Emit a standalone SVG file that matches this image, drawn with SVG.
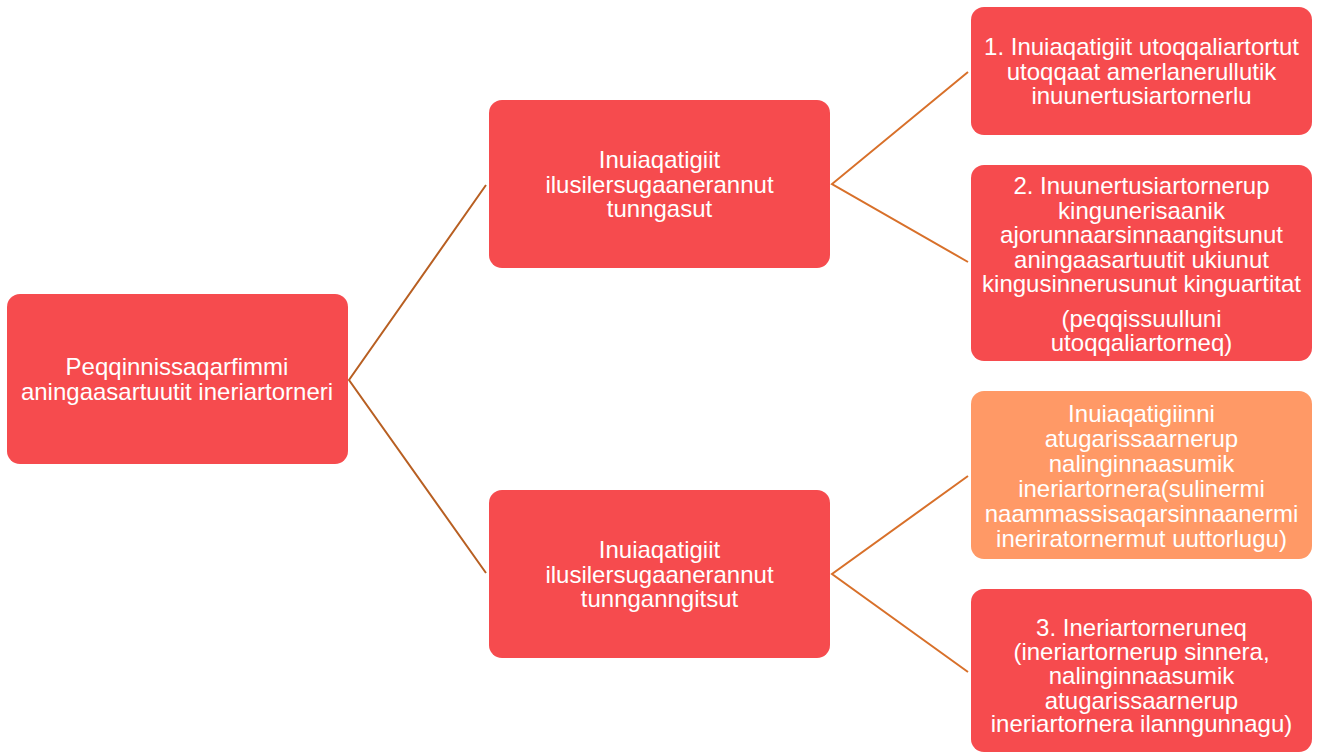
<svg xmlns="http://www.w3.org/2000/svg" width="1317" height="753" viewBox="0 0 1317 753">
<style>
.box{fill:#F64B4E;}
.box.alt{fill:#FF9966;}
.t{font-family:"Liberation Sans",Arial,sans-serif;font-size:24px;fill:#FFFFFF;text-anchor:middle;}
.c1{stroke:#B85F22;stroke-width:2;fill:none;}
.c2{stroke:#D8702A;stroke-width:2;fill:none;}
</style>
<rect width="1317" height="753" fill="#FFFFFF"/>
<g id="connectors">
<polyline class="c1" points="486,185 349,380 486,573"/>
<polyline class="c2" points="968,72 832,184 968,262"/>
<polyline class="c2" points="968,476 832,574 968,672"/>
</g>
<g id="root">
<rect class="box" x="7" y="294" width="341" height="170" rx="13"/>
<text class="t" x="177" y="375">Peqqinnissaqarfimmi</text>
<text class="t" x="177" y="400">aningaasartuutit ineriartorneri</text>
</g>
<g id="mid-top">
<rect class="box" x="489" y="100" width="341" height="168" rx="13"/>
<text class="t" x="659.5" y="168">Inuiaqatigiit</text>
<text class="t" x="659.5" y="193">ilusilersugaanerannut</text>
<text class="t" x="659.5" y="217">tunngasut</text>
</g>
<g id="mid-bottom">
<rect class="box" x="489" y="490" width="341" height="168" rx="13"/>
<text class="t" x="659.5" y="558">Inuiaqatigiit</text>
<text class="t" x="659.5" y="583">ilusilersugaanerannut</text>
<text class="t" x="659.5" y="607">tunnganngitsut</text>
</g>
<g id="leaf1">
<rect class="box" x="971" y="7" width="341" height="128" rx="13"/>
<text class="t" x="1141.5" y="55">1. Inuiaqatigiit utoqqaliartortut</text>
<text class="t" x="1141.5" y="80">utoqqaat amerlanerullutik</text>
<text class="t" x="1141.5" y="104">inuunertusiartornerlu</text>
</g>
<g id="leaf2">
<rect class="box" x="971" y="165" width="341" height="196" rx="13"/>
<text class="t" x="1141.5" y="194">2. Inuunertusiartornerup</text>
<text class="t" x="1141.5" y="219">kingunerisaanik</text>
<text class="t" x="1141.5" y="243">ajorunnaarsinnaangitsunut</text>
<text class="t" x="1141.5" y="268">aningaasartuutit ukiunut</text>
<text class="t" x="1141.5" y="292">kingusinnerusunut kinguartitat</text>
<text class="t" x="1141.5" y="327">(peqqissuulluni</text>
<text class="t" x="1141.5" y="351">utoqqaliartorneq)</text>
</g>
<g id="leaf3">
<rect class="box alt" x="971" y="391" width="341" height="168" rx="13"/>
<text class="t" x="1141.5" y="422">Inuiaqatigiinni</text>
<text class="t" x="1141.5" y="447">atugarissaarnerup</text>
<text class="t" x="1141.5" y="472">nalinginnaasumik</text>
<text class="t" x="1141.5" y="497">ineriartornera(sulinermi</text>
<text class="t" x="1141.5" y="522">naammassisaqarsinnaanermi</text>
<text class="t" x="1141.5" y="547">ineriratornermut uuttorlugu)</text>
</g>
<g id="leaf4">
<rect class="box" x="971" y="589" width="341" height="163" rx="13"/>
<text class="t" x="1141.5" y="636">3. Ineriartorneruneq</text>
<text class="t" x="1141.5" y="660">(ineriartornerup sinnera,</text>
<text class="t" x="1141.5" y="684">nalinginnaasumik</text>
<text class="t" x="1141.5" y="709">atugarissaarnerup</text>
<text class="t" x="1141.5" y="732">ineriartornera ilanngunnagu)</text>
</g>
</svg>
